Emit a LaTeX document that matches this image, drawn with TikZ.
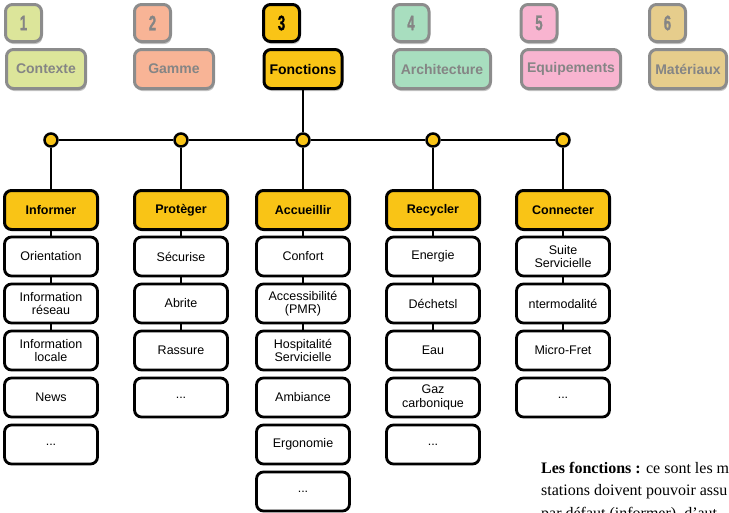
\documentclass[tikz,border=0pt]{standalone}
\usepackage{fontspec}
\setsansfont{Liberation Sans}
\newfontfamily\numfont[FakeStretch=0.62,FakeBold=1.2]{Liberation Sans}
\newfontfamily\notefont{Liberation Serif}
\usetikzlibrary{shadows}
\definecolor{fyellow}{HTML}{F9C416}
\definecolor{boxgray}{HTML}{8C8C8C}
\definecolor{txtgray}{HTML}{858585}
\definecolor{ctxgreen}{HTML}{DCE59A}
\definecolor{gamsalmon}{HTML}{F8B496}
\definecolor{archmint}{HTML}{A8DEBF}
\definecolor{equpink}{HTML}{F8B4D0}
\definecolor{mattan}{HTML}{E6CD8C}
\begin{document}
\begin{tikzpicture}[x=1pt,y=-1pt,
  shade/.style={drop shadow={fill=black,opacity=.22,shadow xshift=1pt,shadow yshift=-2.5pt}},
  num/.style={draw=boxgray,text=txtgray,rounded corners=7pt,line width=3pt,minimum width=36pt,minimum height=37pt,inner sep=0pt,shade,font=\numfont\bfseries\fontsize{21}{21}\selectfont},
  tab/.style={draw=boxgray,text=txtgray,rounded corners=7pt,line width=3pt,minimum height=39pt,inner sep=0pt,shade,font=\sffamily\bfseries\fontsize{14}{14}\selectfont},
  cat/.style={draw,fill=fyellow,rounded corners=7pt,line width=3pt,minimum width=93pt,minimum height=39pt,font=\sffamily\bfseries\fontsize{12.5}{13}\selectfont},
  item/.style={draw,fill=white,rounded corners=7pt,line width=2.8pt,minimum width=93pt,minimum height=39pt,inner sep=1pt,align=center,font=\sffamily\fontsize{12.5}{13.5}\selectfont},
  dot/.style={draw,circle,fill=fyellow,line width=2.5pt,minimum size=13pt,inner sep=0pt},
  link/.style={line width=2.6pt}]
\useasboundingbox (0,0) rectangle (729,512);
\clip (0,0) rectangle (729,512);

% top tabs
\node[num,fill=ctxgreen] (n1) at (23.5,23) {1};
\node[tab,fill=ctxgreen,minimum width=79pt] (tctx) at (46,69) {Contexte};
\node[num,fill=gamsalmon] (n2) at (152.5,23) {2};
\node[tab,fill=gamsalmon,minimum width=79pt] (tgam) at (174,69) {Gamme};
\node[num,fill=fyellow,draw=black,text=black] (n3) at (281.5,23) {3};
\node[tab,fill=fyellow,draw=black,text=black,minimum width=78pt] (tfct) at (303,69) {Fonctions};
\node[num,fill=archmint] (n4) at (411,23) {4};
\node[tab,fill=archmint,minimum width=97pt] (tarc) at (442,69) {Architecture};
\node[num,fill=equpink] (n5) at (539,23) {5};
\node[tab,fill=equpink,minimum width=99pt] (tequ) at (571,69) {Equipements};
\node[num,fill=mattan] (n6) at (667.5,23) {6};
\node[tab,fill=mattan,minimum width=77pt] (tmat) at (688,69) {Matériaux};

% junctions
\node (d1) at (51,140) [dot] {};
\node (d2) at (181,140) [dot] {};
\node (d3) at (303,140) [dot] {};
\node (d4) at (433,140) [dot] {};
\node (d5) at (563,140) [dot] {};

\draw[link] (tfct) -- (d3);
\draw[link] (d1) -- (d2);
\draw[link] (d2) -- (d3);
\draw[link] (d3) -- (d4);
\draw[link] (d4) -- (d5);

% functions
\node[cat] (inf) at (51,210) {Informer};
\node[cat] (pro) at (181,210) {Protèger};
\node[cat] (acc) at (303,210) {Accueillir};
\node[cat] (rec) at (433,210) {Recycler};
\node[cat] (con) at (563,210) {Connecter};

\draw[link] (d1) -- (inf);
\draw[link] (d2) -- (pro);
\draw[link] (d3) -- (acc);
\draw[link] (d4) -- (rec);
\draw[link] (d5) -- (con);

% Informer
\node[item] (inf1) at (51,256.5) {Orientation};
\node[item] (inf2) at (51,303.5) {Information\\réseau};
\node[item] (inf3) at (51,350.5) {Information\\locale};
\node[item] (inf4) at (51,397.5) {News};
\node[item] (inf5) at (51,444.5) {...};

% Proteger
\node[item] (pro1) at (181,256.5) {Sécurise};
\node[item] (pro2) at (181,303.5) {Abrite};
\node[item] (pro3) at (181,350.5) {Rassure};
\node[item] (pro4) at (181,397.5) {...};

% Accueillir
\node[item] (acc1) at (303,256.5) {Confort};
\node[item] (acc2) at (303,303.5) {Accessibilité\\(PMR)};
\node[item] (acc3) at (303,350.5) {Hospitalité\\Servicielle};
\node[item] (acc4) at (303,397.5) {Ambiance};
\node[item] (acc5) at (303,444.5) {Ergonomie};
\node[item] (acc6) at (303,491.5) {...};

% Recycler
\node[item] (rec1) at (433,256.5) {Energie};
\node[item] (rec2) at (433,303.5) {Déchetsl};
\node[item] (rec3) at (433,350.5) {Eau};
\node[item] (rec4) at (433,397.5) {Gaz\\carbonique};
\node[item] (rec5) at (433,444.5) {...};

% Connecter
\node[item] (con1) at (563,256.5) {Suite\\Servicielle};
\node[item] (con2) at (563,303.5) {ntermodalité};
\node[item] (con3) at (563,350.5) {Micro-Fret};
\node[item] (con4) at (563,397.5) {...};

\draw[link] (inf) -- (inf1);
\draw[link] (inf1) -- (inf2);
\draw[link] (inf2) -- (inf3);

\draw[link] (pro) -- (pro1);
\draw[link] (pro1) -- (pro2);
\draw[link] (pro2) -- (pro3);

\draw[link] (acc) -- (acc1);
\draw[link] (acc1) -- (acc2);
\draw[link] (acc2) -- (acc3);

\draw[link] (rec) -- (rec1);
\draw[link] (rec1) -- (rec2);
\draw[link] (rec2) -- (rec3);

\draw[link] (con) -- (con1);
\draw[link] (con1) -- (con2);
\draw[link] (con2) -- (con3);

% caption text, cut by the page edge
\begin{scope}[every node/.style={anchor=base west,inner sep=0pt,font=\notefont\fontsize{16}{21}\selectfont}]
\node (t1) at (541,473) {\textbf{Les fonctions :} ce sont les mi};
\node (t2) at (541,495) {stations doivent pouvoir assu};
\node (t3) at (541,518) {par défaut (informer), d’aut};
\end{scope}
\end{tikzpicture}
\end{document}
